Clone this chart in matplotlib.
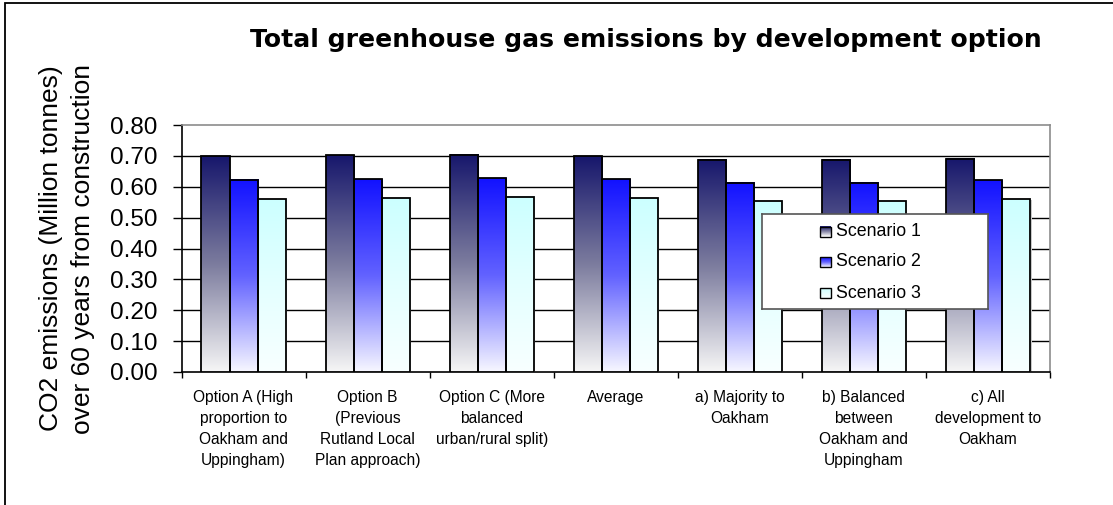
import numpy as np
import matplotlib
matplotlib.use("Agg")
import matplotlib.pyplot as plt
from matplotlib.patches import Rectangle
from matplotlib.colors import LinearSegmentedColormap

# ---- data -------------------------------------------------------------
categories = [
    "Option A (High\nproportion to\nOakham and\nUppingham)",
    "Option B\n(Previous\nRutland Local\nPlan approach)",
    "Option C (More\nbalanced\nurban/rural split)",
    "Average",
    "a) Majority to\nOakham",
    "b) Balanced\nbetween\nOakham and\nUppingham",
    "c) All\ndevelopment to\nOakham",
]
series_names = ["Scenario 1", "Scenario 2", "Scenario 3"]
scenario1 = [0.698, 0.702, 0.703, 0.698, 0.687, 0.687, 0.691]
scenario2 = [0.622, 0.625, 0.628, 0.625, 0.613, 0.613, 0.621]
scenario3 = [0.560, 0.563, 0.567, 0.563, 0.553, 0.553, 0.560]
y_ticks = [0.0, 0.1, 0.2, 0.3, 0.4, 0.5, 0.6, 0.7, 0.8]

# ---- styling ----------------------------------------------------------
W, H = 1113, 505
DPI = 100
REG = "Liberation Sans"
gradients = [
    ["#17176c", "#7c7c9e", "#f6f6f6"],   # navy -> grey -> white
    ["#1212ff", "#6262ff", "#f7f7ff"],   # blue -> white
    ["#ccffff", "#e4ffff", "#f8ffff"],   # pale cyan -> white
]
cmaps = [LinearSegmentedColormap.from_list(f"g{i}", c[::-1]) for i, c in enumerate(gradients)]

fig = plt.figure(figsize=(W / DPI, H / DPI), dpi=DPI)
fig.patch.set_facecolor("white")

# outer chart frame (only left/top edges fall inside the canvas)
fig.patches.append(Rectangle((5 / W, -0.2), 1.3, (H - 3) / H + 0.2, transform=fig.transFigure,
                             fill=False, edgecolor="black", linewidth=1.3))

ax_l, ax_r, ax_t, ax_b = 181.5, 1050, 125, 372
ax = fig.add_axes([ax_l / W, (H - ax_b) / H, (ax_r - ax_l) / W, (ax_b - ax_t) / H])

n = len(categories)
x = np.arange(n)
bw = 0.226
offsets = [-bw, 0.0, bw]
all_series = [scenario1, scenario2, scenario3]

grad = np.linspace(0, 1, 256).reshape(-1, 1)
for s, (vals, off) in enumerate(zip(all_series, offsets)):
    bars = ax.bar(x + off, vals, width=bw, facecolor="none", edgecolor="black",
                  linewidth=1.3, zorder=4, label=series_names[s])
    for b in bars:
        x0, w, h = b.get_x(), b.get_width(), b.get_height()
        # soft drop shadow at the right side
        ax.add_patch(Rectangle((x0 + 0.012, 0), w, h - 0.004, facecolor="#c8c8c8",
                               edgecolor="none", zorder=2.5))
        ax.imshow(grad, cmap=cmaps[s], extent=(x0, x0 + w, 0, h), origin="lower",
                  aspect="auto", zorder=3, interpolation="bilinear")

ax.set_xlim(-0.5, n - 0.5)
ax.set_ylim(0, 0.8)

# gridlines
for t in y_ticks[1:-1]:
    ax.axhline(t, color="black", linewidth=1.0, zorder=1)

ax.set_yticks(y_ticks)
ax.set_yticklabels([f"{t:.2f}" for t in y_ticks], fontfamily=REG, fontsize=17.5)
ax.tick_params(axis="y", direction="out", length=6.5, width=1.0, pad=11, color="black")

ax.set_xticks(x)
ax.set_xticklabels(categories, fontfamily=REG, fontsize=11.2, linespacing=1.5, va="top")
ax.tick_params(axis="x", which="major", length=0, pad=13)
ax.set_xticks(np.arange(-0.5, n), minor=True)
ax.tick_params(axis="x", which="minor", direction="out", length=4, width=1.0)

for side in ("top", "right"):
    ax.spines[side].set_color("#8c8c8c")
    ax.spines[side].set_linewidth(1.2)
for side in ("left", "bottom"):
    ax.spines[side].set_color("black")
    ax.spines[side].set_linewidth(1.2)
ax.set_facecolor("white")

ax.set_ylabel("CO2 emissions (Million tonnes)\nover 60 years from construction",
              fontfamily=REG, fontsize=19, linespacing=1.45, va="center")
ax.yaxis.set_label_coords((67 - ax_l) / (ax_r - ax_l), 0.5)

fig.text(646 / W, 1 - 40 / H, "Total greenhouse gas emissions by development option",
         fontfamily="DejaVu Sans", fontweight="bold", fontsize=18.1, ha="center", va="center")

# legend panel
lg_l, lg_r, lg_t, lg_b = 762, 988, 214, 309
lax = fig.add_axes([lg_l / W, (H - lg_b) / H, (lg_r - lg_l) / W, (lg_b - lg_t) / H], zorder=10)
lax.set_xticks([])
lax.set_yticks([])
lax.set_facecolor("white")
for sp in lax.spines.values():
    sp.set_color("#555555")
    sp.set_linewidth(1.2)
entry_y = [231.5, 262, 293]
for s, (name, yy) in enumerate(zip(series_names, entry_y)):
    lax.imshow(grad[::-1], cmap=cmaps[s], extent=(820, 830.5, yy + 5, yy - 5),
               aspect="auto", zorder=3, interpolation="bilinear")
    lax.add_patch(Rectangle((820, yy - 5), 10.5, 10, fill=False, edgecolor="black",
                            linewidth=1.0, zorder=4))
    lax.text(836.5, yy, name, fontfamily=REG, fontsize=12.8, ha="left", va="center")
lax.set_xlim(lg_l, lg_r)
lax.set_ylim(lg_b, lg_t)

fig.savefig("out.png", dpi=DPI)
